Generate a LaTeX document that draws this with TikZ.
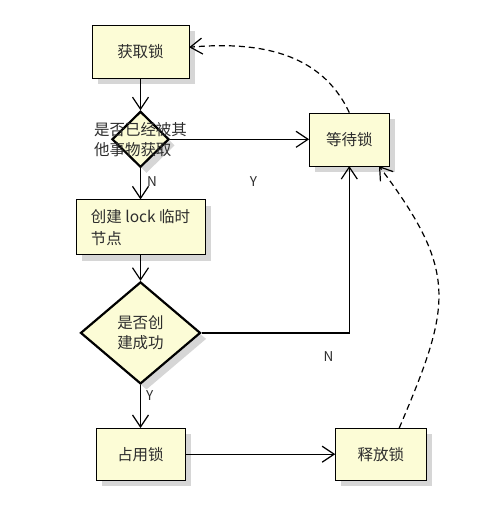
\documentclass[tikz,border=0pt]{standalone}
\usepackage{fontspec}
\newfontfamily\cjk{Noto Sans CJK SC}
\usepackage{tikz}
\usetikzlibrary{positioning,arrows.meta,shapes.geometric,shadows}
\definecolor{notefill}{RGB}{252,252,214}
\definecolor{inkgray}{RGB}{45,45,45}

\begin{document}
\begin{tikzpicture}[
x=1pt, y=-1pt,
node distance=32pt,
box/.style={draw, fill=notefill, minimum height=53pt, align=center, text=inkgray, font=\cjk\fontsize{15.5}{20}\selectfont, drop shadow={shadow xshift=6pt, shadow yshift=-6pt, fill=black!16, opacity=1}},
choice/.style={diamond, draw, line width=2.2pt, fill=notefill, inner sep=0pt, align=center, text=inkgray, font=\cjk\fontsize{15.5}{20}\selectfont, drop shadow={shadow xshift=6pt, shadow yshift=-6pt, fill=black!16, opacity=1}},
arrow/.style={-{Straight Barb[length=12pt,width=16pt]}, line width=1.2pt},
dasharrow/.style={arrow, dash pattern=on 6pt off 4pt},
tag/.style={font=\cjk\fontsize{13.5}{13.5}\selectfont, text=inkgray, inner sep=1pt}
]
\useasboundingbox (0,0) rectangle (497,507);
\node[box, minimum width=97pt] (getlock) at (140.5,51.5) {获取锁};
\node[choice, minimum width=57pt, minimum height=56pt, below=32pt of getlock,
  label={[align=left, text=inkgray, font=\cjk\fontsize{15.5}{20}\selectfont]center:是否已经被其\\他事物获取}] (taken) {};
\node[box, minimum width=129pt, minimum height=55pt, align=left, below=31pt of taken] (create) {创建 lock 临时\\[2pt]节点};
\node[box, minimum width=80pt, right=139pt of taken] (wait) {等待锁};
\node[choice, minimum width=120pt, minimum height=102pt, below=26pt of create] (created) {是否创\\建成功};
\node[box, minimum width=89pt, minimum height=52pt, below=43pt of created] (uselock) {占用锁};
\node[box, minimum width=91pt, minimum height=52pt, right=150pt of uselock] (release) {释放锁};

\draw[arrow] (getlock) -- (taken);
\draw[arrow] (taken.east) -- node[tag, pos=0.6, yshift=-42pt] {Y} (taken.east -| wait.west);
\draw[arrow] (taken) -- node[tag, pos=0.44, right=5pt] {N} (create);
\draw[arrow] (create) -- (created);
\draw[arrow] (created.east) -| node[tag, pos=0.43, yshift=-24pt] {N} (wait.south);
\draw[arrow] (created) -- node[tag, pos=0.25, right=4pt] {Y} (uselock);
\draw[arrow] (uselock) -- (release);
\draw[dasharrow] (release.55) to[out=67, in=-53, looseness=1.3] (wait.-42);
\draw[dasharrow] (wait.north) to[out=115, in=5] (getlock.5);
\end{tikzpicture}
\end{document}
